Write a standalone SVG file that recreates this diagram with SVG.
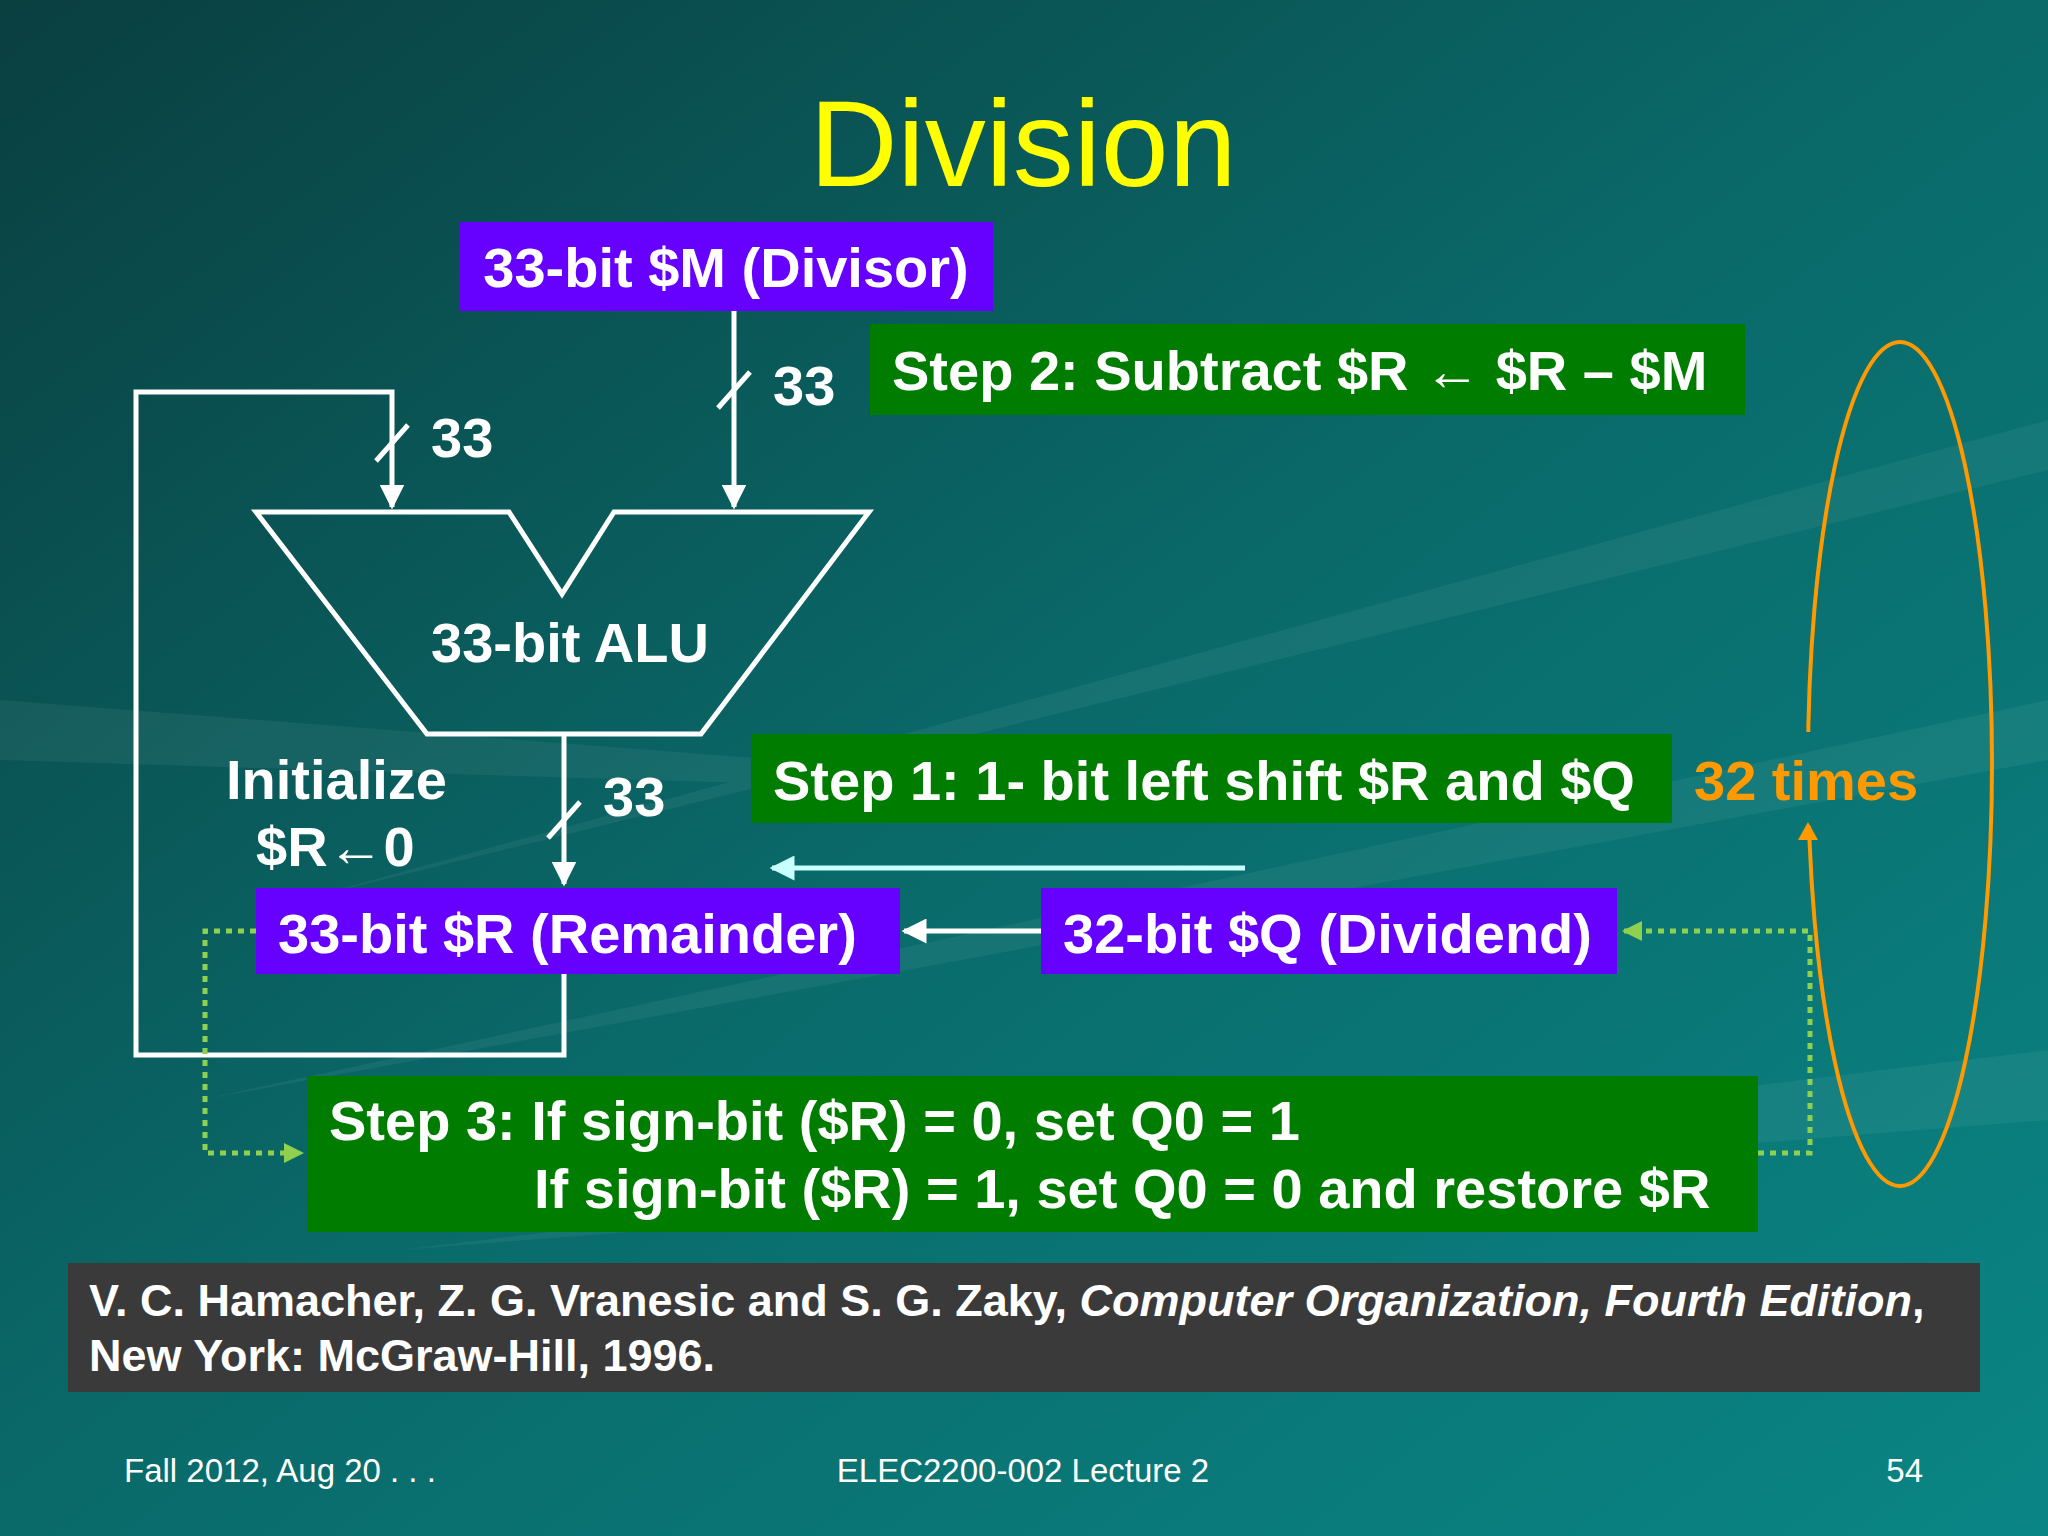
<svg xmlns="http://www.w3.org/2000/svg" width="2048" height="1536" viewBox="0 0 2048 1536">
<defs>
<linearGradient id="bg" x1="0" y1="0" x2="1" y2="1">
<stop offset="0" stop-color="#0a3f40"/><stop offset="0.5" stop-color="#0a6a6a"/><stop offset="1" stop-color="#0a8585"/>
</linearGradient>
<marker id="wa" viewBox="0 0 10 10" refX="9" refY="5" markerWidth="5" markerHeight="5" orient="auto"><path d="M0,0 L10,5 L0,10 z" fill="#fff"/></marker>
<marker id="ca" viewBox="0 0 10 10" refX="9" refY="5" markerWidth="5" markerHeight="5" orient="auto"><path d="M0,0 L10,5 L0,10 z" fill="#c8ffff"/></marker>
<marker id="ga" viewBox="0 0 10 10" refX="9" refY="5" markerWidth="4" markerHeight="4" orient="auto"><path d="M0,0 L10,5 L0,10 z" fill="#8fd14f"/></marker>
<clipPath id="gap"><path clip-rule="evenodd" d="M1700,300 H2048 V1250 H1700 Z M1780,732 H1840 V826 H1780 Z"/></clipPath>
<style>
.t{font-family:"Liberation Sans",Arial,sans-serif;font-weight:bold;fill:#fff;font-size:56px}
.w{stroke:#fff;stroke-width:5;fill:none}
.pu{fill:#6600ff}.gr{fill:#007d00}
.dot{stroke:#8fd14f;stroke-width:5;stroke-dasharray:6,6;fill:none}
.f{font-family:"Liberation Sans",Arial,sans-serif;fill:#fff;font-size:33px}
</style>
</defs>
<rect width="2048" height="1536" fill="url(#bg)"/>
<g opacity="0.05" fill="#fff">
<path d="M2048,420 L300,900 L2048,470 Z"/><path d="M2048,700 L200,1100 L2048,760 Z"/><path d="M2048,1050 L400,1250 L2048,1120 Z"/><path d="M0,700 L1300,800 L0,760 Z"/>
</g>
<text x="1023" y="186" text-anchor="middle" font-family="Liberation Sans,Arial,sans-serif" font-size="122" fill="#ffff00">Division</text>
<g id="connectors">
<path class="w" d="M734,311 V507" marker-end="url(#wa)"/>
<path class="w" d="M718,408 L750,372"/>
<path class="w" d="M564,974 V1055 H136 V392 H392 V507" marker-end="url(#wa)"/>
<path class="w" d="M376,461 L408,425"/>
<path class="w" d="M564,734 V884" marker-end="url(#wa)"/>
<path class="w" d="M548,838 L580,802"/>
<path class="w" d="M1041,931 H904" marker-end="url(#wa)"/>
<path d="M1245,868 H772" stroke="#c8ffff" stroke-width="5" marker-end="url(#ca)"/>
<path class="dot" d="M256,931 H205 V1153 H302" marker-end="url(#ga)"/>
<path class="dot" d="M1758,1153 H1810 V931 H1624" marker-end="url(#ga)"/>
<ellipse cx="1900" cy="764" rx="92" ry="422" fill="none" stroke="#ff9900" stroke-width="4" clip-path="url(#gap)"/>
<path d="M1798,840 L1808,822 L1818,840 Z" fill="#ff9900"/>
</g>
<g id="alu"><path class="w" d="M256,512 H509 L562,594 L614,512 H869 L701,734 H427 Z"/><text class="t" x="570" y="662" text-anchor="middle">33-bit ALU</text></g>
<text class="t" x="773" y="405">33</text>
<text class="t" x="431" y="457">33</text>
<text class="t" x="603" y="816">33</text>
<g id="init"><text class="t" x="226" y="799">Initialize</text><text class="t" x="256" y="866">$R←0</text></g>
<g id="M"><rect class="pu" x="460" y="222" width="533" height="89"/><text class="t" x="726" y="287" text-anchor="middle">33-bit $M (Divisor)</text></g>
<g id="step2"><rect class="gr" x="870" y="324" width="875" height="91"/><text class="t" x="892" y="390">Step 2: Subtract $R ← $R – $M</text></g>
<g id="step1"><rect class="gr" x="751" y="734" width="921" height="89"/><text class="t" x="773" y="800">Step 1: 1- bit left shift $R and $Q</text></g>
<text class="t" x="1694" y="800" style="fill:#ff9900">32 times</text>
<g id="R"><rect class="pu" x="256" y="888" width="644" height="86"/><text class="t" x="278" y="953">33-bit $R (Remainder)</text></g>
<g id="Q"><rect class="pu" x="1041" y="888" width="576" height="86"/><text class="t" x="1063" y="953">32-bit $Q (Dividend)</text></g>
<g id="step3"><rect class="gr" x="307" y="1076" width="1451" height="156"/><text class="t" x="329" y="1140">Step 3: If sign-bit ($R) = 0, set Q0 = 1</text><text class="t" x="534" y="1208">If sign-bit ($R) = 1, set Q0 = 0 and restore $R</text></g>
<g id="cite"><rect x="68" y="1263" width="1912" height="129" fill="#3a3a3a"/>
<text class="t" x="89" y="1316" style="font-size:45px">V. C. Hamacher, Z. G. Vranesic and S. G. Zaky, <tspan font-style="italic">Computer Organization, Fourth Edition</tspan>,</text>
<text class="t" x="89" y="1371" style="font-size:45px">New York: McGraw-Hill, 1996.</text></g>
<text class="f" x="124" y="1482">Fall 2012, Aug 20 . . .</text>
<text class="f" x="1023" y="1482" text-anchor="middle">ELEC2200-002 Lecture 2</text>
<text class="f" x="1923" y="1482" text-anchor="end">54</text>
</svg>
